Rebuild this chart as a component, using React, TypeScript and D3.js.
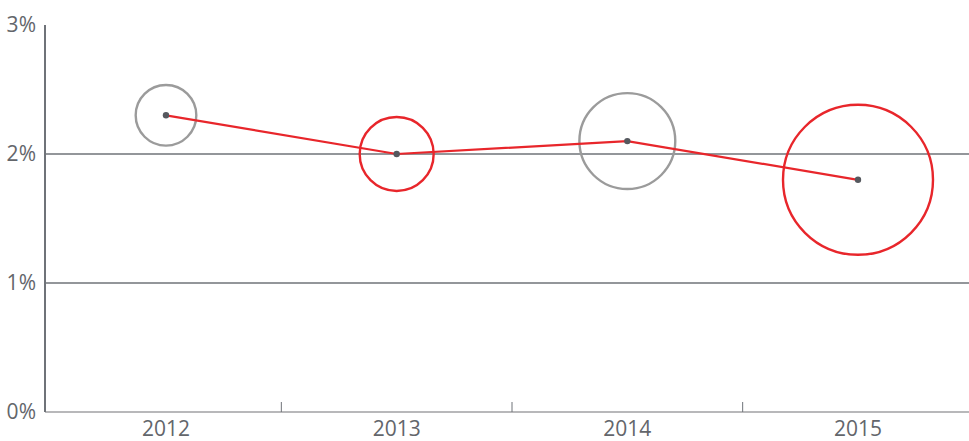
import React from "react";
import * as d3 from "d3";

const categories = ["2012", "2013", "2014", "2015"];
const values = [2.3, 2.0, 2.1, 1.8];
const bubbleSizes = [9.2, 13.7, 23.0, 56.3];
const bubbleKinds = ["gray", "red", "gray", "red"];
const yTicks = [0, 1, 2, 3];

const W = 969;
const H = 441;
const RED = "#e8262b";
const GRAY = "#9b9b9b";

export default function App() {
  const x = d3.scalePoint<string>().domain(categories).range([166, 858]);
  const y = d3.scaleLinear().domain([0, 3]).range([412, 25]);
  const r = d3.scaleSqrt().domain([0, 56.3]).range([0, 75]);
  const line = d3
    .line<number>()
    .x((_, i) => x(categories[i]) as number)
    .y((d) => y(d));
  const mids = categories.slice(1).map((c, i) => ((x(categories[i]) as number) + (x(c) as number)) / 2);
  const font = "'Open Sans', 'DejaVu Sans', sans-serif";

  return (
    <svg
      width={W}
      height={H}
      style={{ position: "absolute", left: 0, top: 0, background: "#fff" }}
    >
      {yTicks
        .filter((t) => t === 1 || t === 2)
        .map((t) => (
          <line key={t} x1={45} x2={W} y1={y(t)} y2={y(t)} stroke="#6f7379" strokeWidth={1.6} />
        ))}
      <line x1={45} x2={W} y1={y(0)} y2={y(0)} stroke="#a0a0a3" strokeWidth={1.6} />
      {mids.map((m, i) => (
        <line key={i} x1={m} x2={m} y1={y(0)} y2={y(0) - 10} stroke="#6f7379" strokeWidth={1} />
      ))}
      <line x1={45} x2={45} y1={y(3)} y2={y(0)} stroke="#6f7379" strokeWidth={2} />
      {yTicks.map((t) => (
        <text
          key={t}
          x={36}
          y={y(t) + 7}
          textAnchor="end"
          fontFamily={font}
          fontSize={21}
          fill="#63666b"
        >
          {t}%
        </text>
      ))}
      {categories.map((c) => (
        <text
          key={c}
          x={x(c) as number}
          y={436}
          textAnchor="middle"
          fontFamily={font}
          fontSize={21}
          fill="#63666b"
        >
          {c}
        </text>
      ))}
      {categories.map((c, i) => (
        <circle
          key={c}
          cx={x(c) as number}
          cy={y(values[i])}
          r={r(bubbleSizes[i])}
          fill="none"
          stroke={bubbleKinds[i] === "red" ? RED : GRAY}
          strokeWidth={2.4}
        />
      ))}
      <path d={line(values) || ""} fill="none" stroke={RED} strokeWidth={2.2} />
      {categories.map((c, i) => (
        <circle key={c} cx={x(c) as number} cy={y(values[i])} r={3.2} fill="#55585e" />
      ))}
    </svg>
  );
}
